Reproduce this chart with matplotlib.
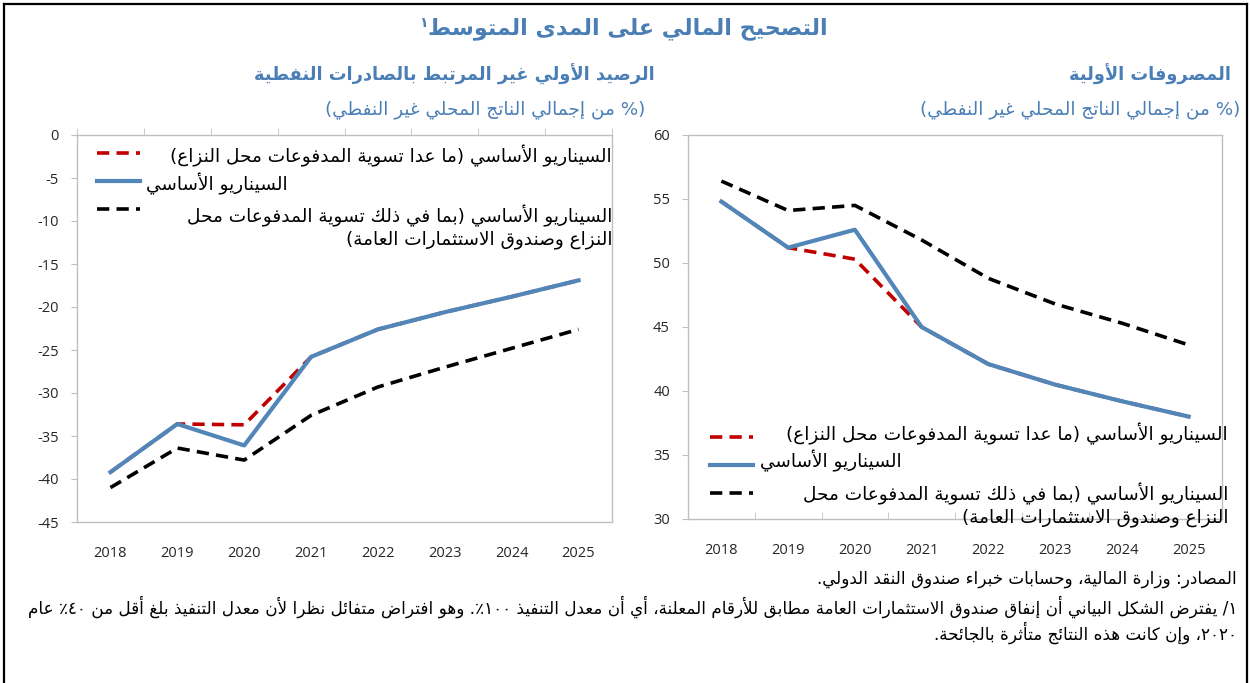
import re
import matplotlib
matplotlib.use('Agg')
import matplotlib.pyplot as plt
from matplotlib.lines import Line2D
from matplotlib.ticker import FixedLocator

#-------------------------------------------------------------------------------
# data
#-------------------------------------------------------------------------------

years = [2018, 2019, 2020, 2021, 2022, 2023, 2024, 2025]

# non-oil primary balance (% of non-oil GDP)
balance_excl = [-39.2, -33.6, -33.7, -25.8, -22.6, -20.6, -18.8, -16.9]
balance_base = [-39.2, -33.6, -36.1, -25.8, -22.6, -20.6, -18.8, -16.9]
balance_incl = [-41.0, -36.4, -37.8, -32.6, -29.3, -27.0, -24.8, -22.6]

# primary expenditure (% of non-oil GDP)
spending_excl = [54.8, 51.2, 50.3, 45.0, 42.1, 40.5, 39.2, 38.0]
spending_base = [54.8, 51.2, 52.6, 45.0, 42.1, 40.5, 39.2, 38.0]
spending_incl = [56.4, 54.1, 54.5, 51.8, 48.8, 46.8, 45.3, 43.6]

title = 'التصحيح المالي على المدى المتوسط'
title_note = '١'
left_title = 'الرصيد الأولي غير المرتبط بالصادرات النفطية'
right_title = 'المصروفات الأولية'
unit = '(% من إجمالي الناتج المحلي غير النفطي)'
label_excl = 'السيناريو الأساسي (ما عدا تسوية المدفوعات محل النزاع)'
label_base = 'السيناريو الأساسي'
label_incl = ['السيناريو الأساسي (بما في ذلك تسوية المدفوعات محل',
              'النزاع وصندوق الاستثمارات العامة)']
source = 'المصادر: وزارة المالية، وحسابات خبراء صندوق النقد الدولي.'
notes = ['١/ يفترض الشكل البياني أن إنفاق صندوق الاستثمارات العامة مطابق للأرقام المعلنة، أي أن معدل التنفيذ ١٠٠٪. وهو افتراض متفائل نظرا لأن معدل التنفيذ بلغ أقل من ٤٠٪ عام',
         '٢٠٢٠، وإن كانت هذه النتائج متأثرة بالجائحة.']

#-------------------------------------------------------------------------------
# minimal arabic shaping (matplotlib does no shaping / bidi by itself)
#-------------------------------------------------------------------------------

LETTERS = {
    '\u0621': (0xFE80, 1), '\u0622': (0xFE81, 2), '\u0623': (0xFE83, 2),
    '\u0624': (0xFE85, 2), '\u0625': (0xFE87, 2), '\u0626': (0xFE89, 4),
    '\u0627': (0xFE8D, 2), '\u0628': (0xFE8F, 4), '\u0629': (0xFE93, 2),
    '\u062A': (0xFE95, 4), '\u062B': (0xFE99, 4), '\u062C': (0xFE9D, 4),
    '\u062D': (0xFEA1, 4), '\u062E': (0xFEA5, 4), '\u062F': (0xFEA9, 2),
    '\u0630': (0xFEAB, 2), '\u0631': (0xFEAD, 2), '\u0632': (0xFEAF, 2),
    '\u0633': (0xFEB1, 4), '\u0634': (0xFEB5, 4), '\u0635': (0xFEB9, 4),
    '\u0636': (0xFEBD, 4), '\u0637': (0xFEC1, 4), '\u0638': (0xFEC5, 4),
    '\u0639': (0xFEC9, 4), '\u063A': (0xFECD, 4), '\u0641': (0xFED1, 4),
    '\u0642': (0xFED5, 4), '\u0643': (0xFED9, 4), '\u0644': (0xFEDD, 4),
    '\u0645': (0xFEE1, 4), '\u0646': (0xFEE5, 4), '\u0647': (0xFEE9, 4),
    '\u0648': (0xFEED, 2), '\u0649': (0xFEEF, 2), '\u064A': (0xFEF1, 4),
}
LAMALEF = {'\u0622': 0xFEF5, '\u0623': 0xFEF7, '\u0625': 0xFEF9, '\u0627': 0xFEFB}
MIRROR = {'(': ')', ')': '('}


def shape(text):
    out = []
    i = 0
    while i < len(text):
        c = text[i]
        if c not in LETTERS:
            out.append(c)
            i += 1
            continue
        prev = text[i - 1] if i > 0 else ''
        prev_links = prev in LETTERS and LETTERS[prev][1] == 4
        nxt = text[i + 1] if i + 1 < len(text) else ''
        if c == '\u0644' and nxt in LAMALEF:
            out.append(chr(LAMALEF[nxt] + (1 if prev_links else 0)))
            i += 2
            continue
        base, count = LETTERS[c]
        next_links = count == 4 and nxt in LETTERS
        form = {(False, False): 0, (True, False): 1, (False, True): 2, (True, True): 3}[(prev_links, next_links)]
        if count == 1:
            form = 0
        out.append(chr(base + form))
        i += 1
    return ''.join(out)


def ar(text):
    lines = []
    for line in text.split('\n'):
        tokens = re.findall(r'[0-9\u0660-\u0669]+|.', shape(line))
        lines.append(''.join(MIRROR.get(t, t) for t in reversed(tokens)))
    return '\n'.join(lines)

#-------------------------------------------------------------------------------
# plot
#-------------------------------------------------------------------------------

W, H = 1250, 683
BLUE = '#5386B8'
RED = '#C00000'
HEAD = '#4A7EB5'
GRID = '#BFBFBF'
LEG_FS = 13.3
NOTE_FS = 12.1

plt.rcParams['font.family'] = ['DejaVu Sans']
plt.rcParams['axes.unicode_minus'] = False

fig = plt.figure(figsize=(W / 100, H / 100), dpi=100)


def fx(x):
    return x / W


def fy(y):
    return 1 - y / H


def rect(x0, y0, x1, y1):
    return [fx(x0), fy(y1), (x1 - x0) / W, (y1 - y0) / H]


def setup(ax, ylim, step, ticks_top):
    ax.set_xlim(years[0] - 0.5, years[-1] + 0.5)
    ax.set_ylim(*ylim)
    ax.set_yticks(range(ylim[0], ylim[1] + 1, step))
    ax.set_xticks(years)
    ax.set_xticklabels([str(y) for y in years])
    ax.xaxis.set_minor_locator(FixedLocator([y + 0.5 for y in [years[0] - 1] + years]))
    for s in ax.spines.values():
        s.set_color(GRID)
        s.set_linewidth(1.0)
    ax.tick_params(axis='y', length=4, color=GRID, pad=9, labelsize=10.5, labelcolor='#262626')
    ax.tick_params(axis='x', which='major', length=0, pad=17, labelsize=10.5, labelcolor='#262626')
    if ticks_top:
        ax.tick_params(axis='x', which='minor', top=True, bottom=False, direction='out', length=5, color=GRID)
    else:
        ax.tick_params(axis='x', which='minor', top=False, bottom=True, direction='in', length=5, color=GRID)
    for lab in ax.get_xticklabels() + ax.get_yticklabels():
        lab.set_fontfamily('Open Sans')


def draw_series(ax, excl, base, incl):
    ax.plot(years, excl, color=RED, lw=2.6, dashes=(3.4, 2.0))
    ax.plot(years, incl, color='black', lw=2.6, dashes=(3.4, 2.0))
    ax.plot(years, base, color=BLUE, lw=3.0)


def key(x0, x1, y, color, dashed):
    ln = Line2D([fx(x0), fx(x1)], [fy(y), fy(y)], transform=fig.transFigure,
                color=color, lw=2.6 if dashed else 3.0)
    if dashed:
        ln.set_dashes((3.4, 2.0))
    fig.add_artist(ln)


# left panel: non-oil primary balance
ax1 = fig.add_axes(rect(77, 135, 612, 522))
setup(ax1, (-45, 0), 5, True)
draw_series(ax1, balance_excl, balance_base, balance_incl)

# right panel: primary expenditure
ax2 = fig.add_axes(rect(688, 135, 1222, 519))
setup(ax2, (30, 60), 5, False)
draw_series(ax2, spending_excl, spending_base, spending_incl)

# legends
key(97, 140, 153, RED, True)
fig.text(fx(612), fy(156), ar(label_excl), ha='right', va='center', fontsize=LEG_FS)
key(97, 140, 181, BLUE, False)
fig.text(fx(146), fy(184), ar(label_base), ha='left', va='center', fontsize=LEG_FS)
key(97, 140, 209, 'black', True)
fig.text(fx(612), fy(227), ar('\n'.join(label_incl)), ha='right', va='center', fontsize=LEG_FS,
         multialignment='right', linespacing=1.3)

key(710, 753, 437, RED, True)
fig.text(fx(1228), fy(434), ar(label_excl), ha='right', va='center', fontsize=LEG_FS)
key(710, 753, 465, BLUE, False)
fig.text(fx(760), fy(461), ar(label_base), ha='left', va='center', fontsize=LEG_FS)
key(710, 753, 493, 'black', True)
fig.text(fx(1228), fy(505), ar('\n'.join(label_incl)), ha='right', va='center', fontsize=LEG_FS,
         multialignment='right', linespacing=1.3)

# headings
t = fig.text(fx(828), fy(29), ar(title), ha='right', va='center', fontsize=16,
             fontweight='bold', color=HEAD)
fig.canvas.draw()
bb = t.get_window_extent()
fig.text(bb.x0 / W - 0.001, fy(23), title_note, ha='right', va='center', fontsize=10,
         fontweight='bold', color=HEAD)
fig.text(fx(655), fy(74), ar(left_title), ha='right', va='center', fontsize=12.8,
         fontweight='bold', color=HEAD)
fig.text(fx(1231), fy(74), ar(right_title), ha='right', va='center', fontsize=12.8,
         fontweight='bold', color=HEAD)
fig.text(fx(645), fy(110), ar(unit), ha='right', va='center', fontsize=13.2, color=HEAD)
fig.text(fx(1240), fy(110), ar(unit), ha='right', va='center', fontsize=13.2, color=HEAD)

# source and notes
fig.text(fx(1237), fy(579), ar(source), ha='right', va='center', fontsize=NOTE_FS)
fig.text(fx(1237), fy(607), ar(notes[0]), ha='right', va='center', fontsize=NOTE_FS)
fig.text(fx(1237), fy(633), ar(notes[1]), ha='right', va='center', fontsize=NOTE_FS)

# outer frame
for xs, ys in [([4, 1247], [4, 4]), ([4, 4], [4, 683]), ([1247, 1247], [4, 683])]:
    fig.add_artist(Line2D([fx(v) for v in xs], [fy(v) for v in ys], transform=fig.transFigure,
                          color='black', lw=1.6))

fig.savefig('out.png', dpi=100)
